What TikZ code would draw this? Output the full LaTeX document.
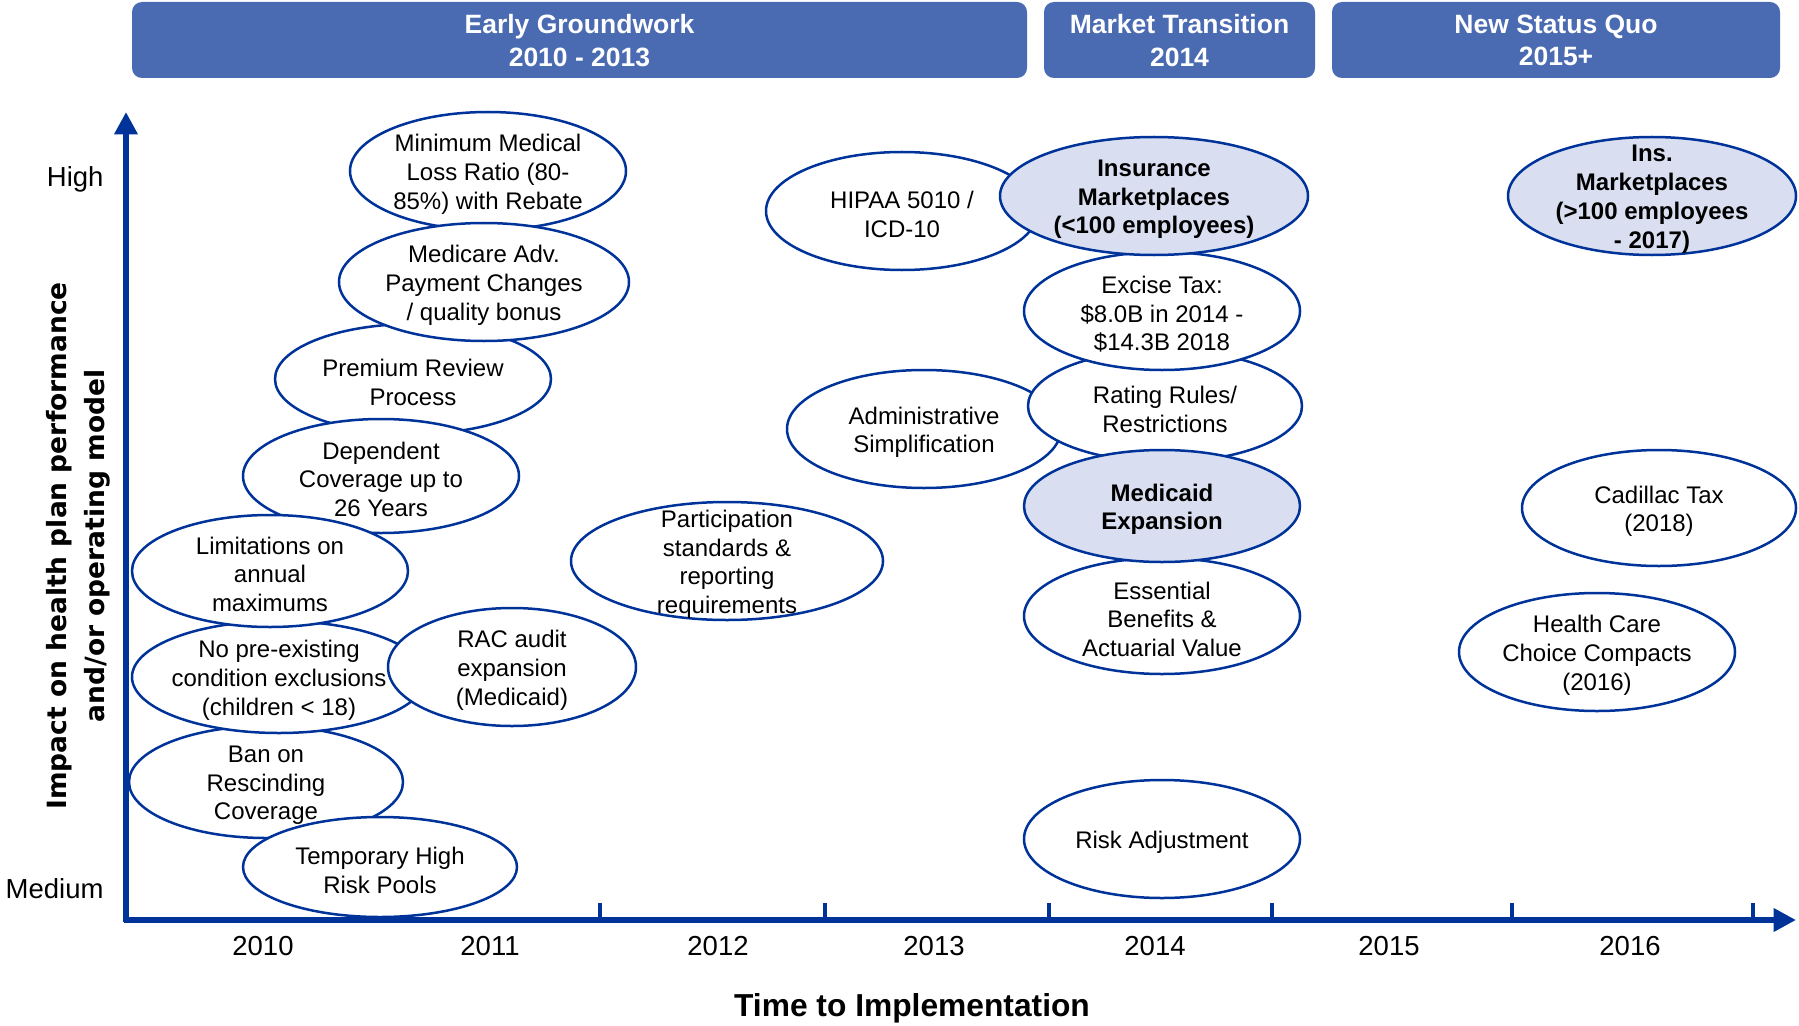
\documentclass[tikz,border=0pt]{standalone}
\usepackage{fontspec}
\setmainfont{Liberation Sans}
\newfontfamily\axisfont{DejaVu Sans}
\usetikzlibrary{shapes.geometric,arrows.meta}

\definecolor{hdrblue}{RGB}{74,106,178}
\definecolor{edgeblue}{RGB}{0,51,153}
\definecolor{lightfill}{RGB}{217,223,241}

\tikzset{
  % one pixel of the layout grid = 0.4pt
  x=0.4pt, y=-0.4pt,
  txt/.style={align=center, font=\fontsize{9.6}{11.5}\selectfont, inner sep=0pt, yshift=-1.3pt},
  btxt/.style={txt, font=\fontsize{9.6}{11.5}\selectfont\bfseries},
  el/.style n args={2}{ellipse, draw=edgeblue, fill=white, line width=1pt,
    minimum width=#1*0.8pt, minimum height=#2*0.8pt, inner sep=0pt},
  elf/.style n args={2}{el={#1}{#2}, fill=lightfill},
  hdr/.style={fill=hdrblue, rounded corners=4pt, text=white, align=center,
    font=\fontsize{10.6}{12.9}\selectfont\bfseries, inner sep=0pt},
  axisline/.style={draw=edgeblue, line width=2.4pt},
  tick/.style={draw=edgeblue, line width=1.4pt},
  year/.style={font=\fontsize{11}{13}\selectfont, inner sep=0pt},
}

\begin{document}
\begin{tikzpicture}
\useasboundingbox (0,0) rectangle (1799,1026);

% phase headers
\node[hdr, minimum width=895*0.4pt, minimum height=76*0.4pt] (h1) at (579.5,40) {};
\node[hdr, minimum width=271*0.4pt, minimum height=76*0.4pt] (h2) at (1179.5,40) {};
\node[hdr, minimum width=448*0.4pt, minimum height=76*0.4pt] (h3) at (1556,40) {};
\node[hdr, fill=none] (h1t) at (579.5,40.5) {Early Groundwork\\2010 - 2013};
\node[hdr, fill=none] (h2t) at (1179.5,40.5) {Market Transition\\2014};
\node[hdr, fill=none] (h3t) at (1556,40.5) {New Status Quo\\2015+};

% axes
\coordinate (origin) at (124,920);
\coordinate (ybase) at (126,922);
\coordinate (ytop) at (126,112);
\coordinate (xend) at (1796,920);
\draw[axisline, -{Triangle[length=9pt,width=9pt]}] (ybase) -- (ytop);
\draw[axisline, -{Triangle[length=9pt,width=9pt]}] (origin) -- (xend);

% year separators
\foreach \tx [count=\i] in {600,825,1049,1272,1512,1753}{
  \coordinate (tb\i) at (\tx,920);
  \coordinate (tt\i) at (\tx,903);
  \draw[tick] (tb\i) -- (tt\i);
}

% year labels
\node[year] (y10) at (263,946) {2010};
\node[year] (y11) at (490,946) {2011};
\node[year] (y12) at (718,946) {2012};
\node[year] (y13) at (934,946) {2013};
\node[year] (y14) at (1155,946) {2014};
\node[year] (y15) at (1389,946) {2015};
\node[year] (y16) at (1630,946) {2016};

% axis titles
\node[font=\fontsize{12.7}{15}\selectfont\bfseries, inner sep=0pt] (xt) at (912,1008.5) {Time to Implementation};
\node[rotate=90, align=center, font=\fontsize{10.6}{15.2}\axisfont\bfseries, inner sep=0pt] (yt) at (78,546)
  {Impact on health plan performance\\and/or operating model};
\node[year, anchor=east] (hi) at (104,179.5) {High};
\node[year, anchor=east] (med) at (104,889) {Medium};

% 2010 - 2011 provisions
\node[el={138}{59}, label={[txt]center:{Minimum Medical\\Loss Ratio (80-\\85\%) with Rebate}}] (mlr) at (488,171) {};
\node[el={138}{55}, label={[txt]center:{Premium Review\\Process}}] (prp) at (413,379) {};
\node[el={145}{59}, label={[txt]center:{Medicare Adv.\\Payment Changes\\/ quality bonus}}] (mad) at (484,282) {};
\node[el={138}{57}, label={[txt]center:{Dependent\\Coverage up to\\26 Years}}] (dep) at (381,476) {};
\node[el={137}{56}, label={[txt]center:{Ban on\\Rescinding\\Coverage}}] (ban) at (266,782) {};
\node[el={147}{56}, label={[txt]center:{No pre-existing\\condition exclusions\\(children < 18)}}] (npe) at (279,677) {};
\node[el={138}{56}, label={[txt]center:{Limitations on\\annual\\maximums}}] (lim) at (270,571) {};
\node[el={124}{59}, label={[txt]center:{RAC audit\\expansion\\(Medicaid)}}] (rac) at (512,667) {};
\node[el={137}{50}, label={[txt]center:{Temporary High\\Risk Pools}}] (thr) at (380,867) {};
\node[el={156}{59}, label={[txt]center:{Participation\\standards \&\\reporting\\requirements}}] (par) at (727,561) {};

% 2013 - 2014 provisions
\node[el={136}{59}, label={[txt]center:{HIPAA 5010 /\\ICD-10}}] (hip) at (902,211) {};
\node[el={137}{59}, label={[txt]center:{Administrative\\Simplification}}] (adm) at (924,429) {};
\node[el={137}{56}, label={[txt]center:{Rating Rules/\\Restrictions}}] (rat) at (1165,406) {};
\node[el={138}{59}, label={[txt]center:{Excise Tax:\\\$8.0B in 2014 -\\\$14.3B 2018}}] (exc) at (1162,311) {};
\node[elf={154}{59}, label={[btxt]center:{Insurance\\Marketplaces\\(<100 employees)}}] (imk) at (1154,196) {};
\node[el={138}{58}, label={[txt]center:{Essential\\Benefits \&\\Actuarial Value}}] (ess) at (1162,616) {};
\node[elf={138}{56}, label={[btxt]center:{Medicaid\\Expansion}}] (mcd) at (1162,506) {};
\node[el={138}{59}, label={[txt]center:{Risk Adjustment}}] (rsk) at (1162,839) {};

% 2015+ provisions
\node[elf={144}{59}, label={[btxt]center:{Ins.\\Marketplaces\\(>100 employees\\- 2017)}}] (imb) at (1652,196) {};
\node[el={137}{58}, label={[txt]center:{Cadillac Tax\\(2018)}}] (cad) at (1659,508) {};
\node[el={138}{59}, label={[txt]center:{Health Care\\Choice Compacts\\(2016)}}] (hcc) at (1597,652) {};

\end{tikzpicture}
\end{document}
